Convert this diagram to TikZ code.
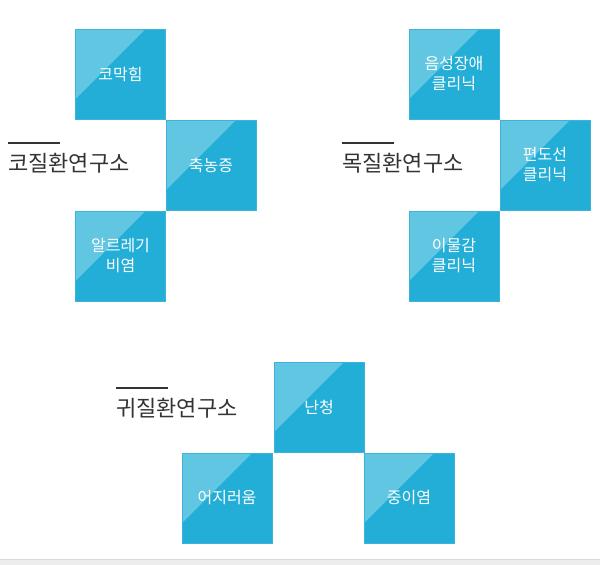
\documentclass[tikz,border=0pt]{standalone}
\usepackage{fontspec}
\setmainfont{Noto Sans CJK KR}
\usetikzlibrary{positioning}
\definecolor{boxblue}{RGB}{34,174,214}
\definecolor{boxedge}{RGB}{60,180,218}
\definecolor{gloss}{RGB}{112,204,230}
\definecolor{titlegray}{RGB}{51,51,51}
\newcommand\ppbb{path picture bounding box}
\tikzset{
	clinic/.style = {rectangle, draw=boxedge, fill=boxblue, minimum width=90pt, minimum height=90pt,
		text=white, align=center, font=\fontsize{16}{20}\selectfont, inner sep=0pt,
		path picture={\fill[gloss, opacity=0.8]
			(\ppbb.north west) -- ([xshift=-20pt] \ppbb.north east) -- ([yshift=20pt] \ppbb.south west) -- cycle;
		},% end of path picture
	},
	institute/.style = {font=\fontsize{22}{26}\selectfont, text=titlegray, anchor=west, inner sep=0pt},
	bar/.style = {titlegray, line width=1.5pt}
}
\begin{document}
\begin{tikzpicture}[x=1pt, y=-1pt]
\useasboundingbox (0,0) rectangle (600,565);
\fill[black!7] (0,559) rectangle (600,565);
\draw[black!15] (0,559) -- (600,559);

% Nose
\node (nose) [institute] at (8,163) {코질환연구소};
\node (nasal) [clinic] at (120.5,74) {코막힘};
\node (sinus) [clinic] at (211,165) {축농증};
\node (rhinitis) [clinic] at (120.5,256) {알르레기\\비염};
\draw [bar] (nose.north west) ++(0,-10) -- ++(52,0);

% Throat
\node (throat) [institute] at (342,163) {목질환연구소};
\node (voice) [clinic] at (454,74) {음성장애\\클리닉};
\node (tonsil) [clinic] at (545,165) {편도선\\클리닉};
\node (foreign) [clinic] at (454,256) {이물감\\클리닉};
\draw [bar] (throat.north west) ++(0,-10) -- ++(52,0);

% Ear
\node (ear) [institute] at (116,408) {귀질환연구소};
\node (hearing) [clinic] at (319,407) {난청};
\node (dizzy) [clinic] at (227,498) {어지러움};
\node (otitis) [clinic] at (409,498) {중이염};
\draw [bar] (ear.north west) ++(0,-10) -- ++(52,0);
\end{tikzpicture}
\end{document}
